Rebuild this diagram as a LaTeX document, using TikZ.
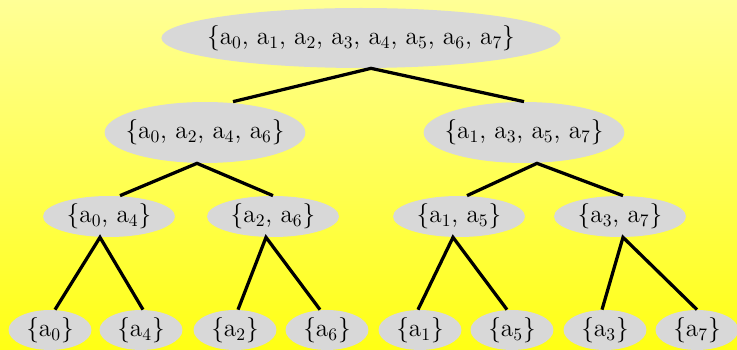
\documentclass[tikz,border=0pt]{standalone}
\definecolor{setgray}{RGB}{216, 216, 216}
\definecolor{paleyellow}{RGB}{255, 255, 150}
\definecolor{brightyellow}{RGB}{255, 255, 20}
\usepackage{tikz}
\usetikzlibrary{shapes.geometric, positioning, calc}

\begin{document}
\begin{tikzpicture}[x=0.02cm, y=-0.02cm,
    setnode/.style={ellipse, fill=setgray, inner sep=0pt},
    rootset/.style={setnode, inner xsep=-0.255cm, minimum width=7.94cm, minimum height=1.2cm, font=\Large},
    halfset/.style={setnode, inner xsep=-0.17cm, minimum width=3.98cm, minimum height=1.22cm, font=\Large},
    pairset/.style={setnode, minimum width=2.64cm, minimum height=0.82cm, font=\Large},
    leafset/.style={setnode, minimum width=1.66cm, minimum height=0.8cm, font=\Large},
    edge/.style={line width=1.85pt}]
          \clip (0, 0) rectangle (737, 350);
          \useasboundingbox (0, 0) rectangle (737, 350);
          \shade[top color=paleyellow, bottom color=brightyellow] (0, 0) rectangle (737, 350);
          % levels of the split
          \node[rootset] (root) at (361, 38) {\{a$_0$, a$_1$, a$_2$, a$_3$, a$_4$, a$_5$, a$_6$, a$_7$\}};
          \node[halfset] (even) at (205, 132.5) {\{a$_0$, a$_2$, a$_4$, a$_6$\}};
          \node[halfset] (odd)  at (524, 132.5) {\{a$_1$, a$_3$, a$_5$, a$_7$\}};
          \node[pairset] (p04) at (109, 216.5) {\{a$_0$, a$_4$\}};
          \node[pairset] (p26) at (273, 216.5) {\{a$_2$, a$_6$\}};
          \node[pairset] (p15) at (459, 216.5) {\{a$_1$, a$_5$\}};
          \node[pairset] (p37) at (620, 216.5) {\{a$_3$, a$_7$\}};
          \node[leafset] (s0) at (50, 330)  {\{a$_0$\}};
          \node[leafset] (s4) at (141, 330) {\{a$_4$\}};
          \node[leafset] (s2) at (235, 330) {\{a$_2$\}};
          \node[leafset] (s6) at (327, 330) {\{a$_6$\}};
          \node[leafset] (s1) at (420, 330) {\{a$_1$\}};
          \node[leafset] (s5) at (512, 330) {\{a$_5$\}};
          \node[leafset] (s3) at (605, 330) {\{a$_3$\}};
          \node[leafset] (s7) at (697, 330) {\{a$_7$\}};
          % edges
          \draw[edge] ([xshift=0.56cm]even.north) -- ([xshift=0.2cm]root.south) -- (odd.north);
          \draw[edge] ([xshift=0.22cm]p04.north) -- ([xshift=-0.16cm]even.south) -- (p26.north);
          \draw[edge] ([xshift=0.16cm]p15.north) -- ([xshift=0.26cm]odd.south) -- ([xshift=0.06cm]p37.north);
          \draw[edge] ([xshift=0.1cm]s0.north) -- ([xshift=-0.18cm]p04.south) -- ([xshift=0.04cm]s4.north);
          \draw[edge] ([xshift=0.06cm]s2.north) -- ([xshift=-0.14cm]p26.south) -- ([xshift=-0.14cm]s6.north);
          \draw[edge] ([xshift=-0.04cm]s1.north) -- ([xshift=-0.12cm]p15.south) -- ([xshift=-0.1cm]s5.north);
          \draw[edge] ([xshift=-0.06cm]s3.north) -- ([xshift=0.06cm]p37.south) -- (s7.north);
        \end{tikzpicture}
\end{document}
